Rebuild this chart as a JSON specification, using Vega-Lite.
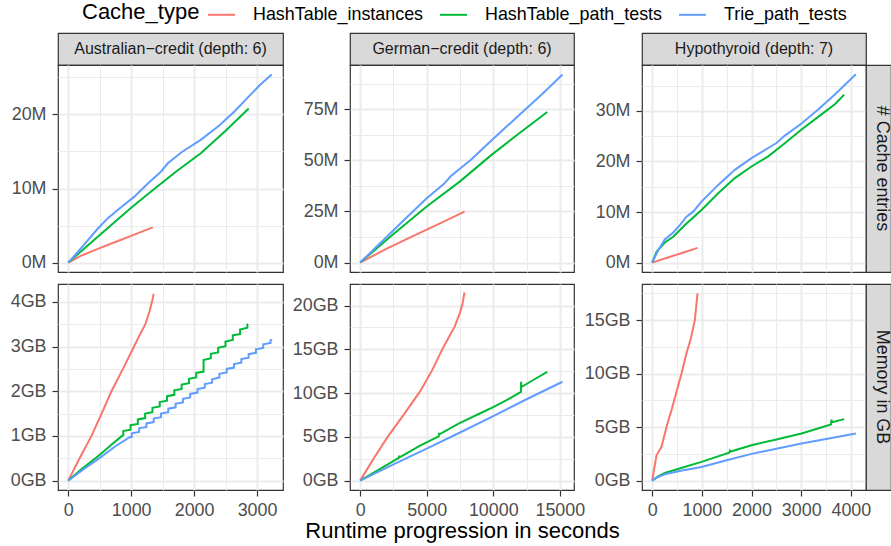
{
  "$schema": "https://vega.github.io/schema/vega-lite/v6.json",
  "padding": {"left": 9, "top": 0, "right": 0, "bottom": 0},
  "columns": 6,
  "spacing": 0,
  "bounds": "flush",
  "align": "each",
  "resolve": {"scale": {"x": "independent", "y": "independent"}, "axis": {"x": "independent", "y": "independent"}},
  "datasets": {
    "AE": [
      {"Cache_type": "HashTable_instances", "t": 0, "v": 0}, {"Cache_type": "HashTable_instances", "t": 200, "v": 0.9}, {"Cache_type": "HashTable_instances", "t": 500, "v": 1.95}, {"Cache_type": "HashTable_instances", "t": 800, "v": 2.95}, {"Cache_type": "HashTable_instances", "t": 1100, "v": 3.95}, {"Cache_type": "HashTable_instances", "t": 1344, "v": 4.75},
      {"Cache_type": "HashTable_path_tests", "t": 0, "v": 0}, {"Cache_type": "HashTable_path_tests", "t": 524, "v": 3.9}, {"Cache_type": "HashTable_path_tests", "t": 1000, "v": 7.4}, {"Cache_type": "HashTable_path_tests", "t": 1317, "v": 9.6}, {"Cache_type": "HashTable_path_tests", "t": 1700, "v": 12.2}, {"Cache_type": "HashTable_path_tests", "t": 2111, "v": 14.8}, {"Cache_type": "HashTable_path_tests", "t": 2500, "v": 17.8}, {"Cache_type": "HashTable_path_tests", "t": 2868, "v": 20.8},
      {"Cache_type": "Trie_path_tests", "t": 0, "v": 0}, {"Cache_type": "Trie_path_tests", "t": 150, "v": 1.4}, {"Cache_type": "Trie_path_tests", "t": 300, "v": 2.9}, {"Cache_type": "Trie_path_tests", "t": 450, "v": 4.4}, {"Cache_type": "Trie_path_tests", "t": 630, "v": 6.0}, {"Cache_type": "Trie_path_tests", "t": 800, "v": 7.2}, {"Cache_type": "Trie_path_tests", "t": 1050, "v": 8.9}, {"Cache_type": "Trie_path_tests", "t": 1270, "v": 10.7}, {"Cache_type": "Trie_path_tests", "t": 1476, "v": 12.3}, {"Cache_type": "Trie_path_tests", "t": 1582, "v": 13.4}, {"Cache_type": "Trie_path_tests", "t": 1800, "v": 14.9}, {"Cache_type": "Trie_path_tests", "t": 2111, "v": 16.6}, {"Cache_type": "Trie_path_tests", "t": 2400, "v": 18.5}, {"Cache_type": "Trie_path_tests", "t": 2640, "v": 20.4}, {"Cache_type": "Trie_path_tests", "t": 2878, "v": 22.5}, {"Cache_type": "Trie_path_tests", "t": 3050, "v": 24.0}, {"Cache_type": "Trie_path_tests", "t": 3233, "v": 25.4}
    ],
    "AM": [
      {"Cache_type": "HashTable_instances", "t": 0, "v": 0}, {"Cache_type": "HashTable_instances", "t": 200, "v": 0.55}, {"Cache_type": "HashTable_instances", "t": 370, "v": 1.0}, {"Cache_type": "HashTable_instances", "t": 530, "v": 1.5}, {"Cache_type": "HashTable_instances", "t": 687, "v": 2.0}, {"Cache_type": "HashTable_instances", "t": 870, "v": 2.5}, {"Cache_type": "HashTable_instances", "t": 1046, "v": 3.0}, {"Cache_type": "HashTable_instances", "t": 1150, "v": 3.3}, {"Cache_type": "HashTable_instances", "t": 1226, "v": 3.5}, {"Cache_type": "HashTable_instances", "t": 1290, "v": 3.78}, {"Cache_type": "HashTable_instances", "t": 1331, "v": 4.0}, {"Cache_type": "HashTable_instances", "t": 1358, "v": 4.18},
      {"Cache_type": "HashTable_path_tests", "t": 0, "v": 0}, {"Cache_type": "HashTable_path_tests", "t": 200, "v": 0.24}, {"Cache_type": "HashTable_path_tests", "t": 502, "v": 0.58}, {"Cache_type": "HashTable_path_tests", "t": 700, "v": 0.82}, {"Cache_type": "HashTable_path_tests", "t": 845, "v": 0.99},
      {"Cache_type": "HashTable_path_tests", "t": 874, "v": 1.01}, {"Cache_type": "HashTable_path_tests", "t": 874, "v": 1.11},
      {"Cache_type": "HashTable_path_tests", "t": 990, "v": 1.14}, {"Cache_type": "HashTable_path_tests", "t": 990, "v": 1.24},
      {"Cache_type": "HashTable_path_tests", "t": 1106, "v": 1.27}, {"Cache_type": "HashTable_path_tests", "t": 1106, "v": 1.37},
      {"Cache_type": "HashTable_path_tests", "t": 1222, "v": 1.40}, {"Cache_type": "HashTable_path_tests", "t": 1222, "v": 1.50},
      {"Cache_type": "HashTable_path_tests", "t": 1338, "v": 1.53}, {"Cache_type": "HashTable_path_tests", "t": 1338, "v": 1.63},
      {"Cache_type": "HashTable_path_tests", "t": 1454, "v": 1.66}, {"Cache_type": "HashTable_path_tests", "t": 1454, "v": 1.76},
      {"Cache_type": "HashTable_path_tests", "t": 1570, "v": 1.79}, {"Cache_type": "HashTable_path_tests", "t": 1570, "v": 1.89},
      {"Cache_type": "HashTable_path_tests", "t": 1686, "v": 1.92}, {"Cache_type": "HashTable_path_tests", "t": 1686, "v": 2.02},
      {"Cache_type": "HashTable_path_tests", "t": 1802, "v": 2.05}, {"Cache_type": "HashTable_path_tests", "t": 1802, "v": 2.15},
      {"Cache_type": "HashTable_path_tests", "t": 1918, "v": 2.18}, {"Cache_type": "HashTable_path_tests", "t": 1918, "v": 2.28},
      {"Cache_type": "HashTable_path_tests", "t": 2034, "v": 2.31}, {"Cache_type": "HashTable_path_tests", "t": 2034, "v": 2.41},
      {"Cache_type": "HashTable_path_tests", "t": 2150, "v": 2.44}, {"Cache_type": "HashTable_path_tests", "t": 2150, "v": 2.70},
      {"Cache_type": "HashTable_path_tests", "t": 2266, "v": 2.74}, {"Cache_type": "HashTable_path_tests", "t": 2266, "v": 2.84},
      {"Cache_type": "HashTable_path_tests", "t": 2382, "v": 2.87}, {"Cache_type": "HashTable_path_tests", "t": 2382, "v": 2.97},
      {"Cache_type": "HashTable_path_tests", "t": 2498, "v": 3.01}, {"Cache_type": "HashTable_path_tests", "t": 2498, "v": 3.11},
      {"Cache_type": "HashTable_path_tests", "t": 2614, "v": 3.15}, {"Cache_type": "HashTable_path_tests", "t": 2614, "v": 3.25},
      {"Cache_type": "HashTable_path_tests", "t": 2730, "v": 3.28}, {"Cache_type": "HashTable_path_tests", "t": 2730, "v": 3.38},
      {"Cache_type": "HashTable_path_tests", "t": 2846, "v": 3.42}, {"Cache_type": "HashTable_path_tests", "t": 2846, "v": 3.49},
      {"Cache_type": "HashTable_path_tests", "t": 2860, "v": 3.50},
      {"Cache_type": "Trie_path_tests", "t": 0, "v": 0}, {"Cache_type": "Trie_path_tests", "t": 250, "v": 0.26}, {"Cache_type": "Trie_path_tests", "t": 502, "v": 0.51}, {"Cache_type": "Trie_path_tests", "t": 750, "v": 0.77}, {"Cache_type": "Trie_path_tests", "t": 977, "v": 0.97},
      {"Cache_type": "Trie_path_tests", "t": 1010, "v": 0.98}, {"Cache_type": "Trie_path_tests", "t": 1010, "v": 1.06},
      {"Cache_type": "Trie_path_tests", "t": 1126, "v": 1.09}, {"Cache_type": "Trie_path_tests", "t": 1126, "v": 1.17},
      {"Cache_type": "Trie_path_tests", "t": 1242, "v": 1.20}, {"Cache_type": "Trie_path_tests", "t": 1242, "v": 1.28},
      {"Cache_type": "Trie_path_tests", "t": 1358, "v": 1.31}, {"Cache_type": "Trie_path_tests", "t": 1358, "v": 1.39},
      {"Cache_type": "Trie_path_tests", "t": 1474, "v": 1.42}, {"Cache_type": "Trie_path_tests", "t": 1474, "v": 1.50},
      {"Cache_type": "Trie_path_tests", "t": 1590, "v": 1.53}, {"Cache_type": "Trie_path_tests", "t": 1590, "v": 1.61},
      {"Cache_type": "Trie_path_tests", "t": 1706, "v": 1.64}, {"Cache_type": "Trie_path_tests", "t": 1706, "v": 1.72},
      {"Cache_type": "Trie_path_tests", "t": 1822, "v": 1.75}, {"Cache_type": "Trie_path_tests", "t": 1822, "v": 1.83},
      {"Cache_type": "Trie_path_tests", "t": 1938, "v": 1.86}, {"Cache_type": "Trie_path_tests", "t": 1938, "v": 1.94},
      {"Cache_type": "Trie_path_tests", "t": 2054, "v": 1.97}, {"Cache_type": "Trie_path_tests", "t": 2054, "v": 2.05},
      {"Cache_type": "Trie_path_tests", "t": 2170, "v": 2.08}, {"Cache_type": "Trie_path_tests", "t": 2170, "v": 2.16},
      {"Cache_type": "Trie_path_tests", "t": 2286, "v": 2.19}, {"Cache_type": "Trie_path_tests", "t": 2286, "v": 2.27},
      {"Cache_type": "Trie_path_tests", "t": 2402, "v": 2.31}, {"Cache_type": "Trie_path_tests", "t": 2402, "v": 2.39},
      {"Cache_type": "Trie_path_tests", "t": 2518, "v": 2.42}, {"Cache_type": "Trie_path_tests", "t": 2518, "v": 2.50},
      {"Cache_type": "Trie_path_tests", "t": 2634, "v": 2.53}, {"Cache_type": "Trie_path_tests", "t": 2634, "v": 2.61},
      {"Cache_type": "Trie_path_tests", "t": 2750, "v": 2.64}, {"Cache_type": "Trie_path_tests", "t": 2750, "v": 2.72},
      {"Cache_type": "Trie_path_tests", "t": 2866, "v": 2.75}, {"Cache_type": "Trie_path_tests", "t": 2866, "v": 2.83},
      {"Cache_type": "Trie_path_tests", "t": 2982, "v": 2.86}, {"Cache_type": "Trie_path_tests", "t": 2982, "v": 2.94},
      {"Cache_type": "Trie_path_tests", "t": 3098, "v": 2.97}, {"Cache_type": "Trie_path_tests", "t": 3098, "v": 3.05},
      {"Cache_type": "Trie_path_tests", "t": 3214, "v": 3.08}, {"Cache_type": "Trie_path_tests", "t": 3214, "v": 3.14},
      {"Cache_type": "Trie_path_tests", "t": 3240, "v": 3.15}
    ],
    "GE": [
      {"Cache_type": "HashTable_instances", "t": 0, "v": 0}, {"Cache_type": "HashTable_instances", "t": 2000, "v": 6.8}, {"Cache_type": "HashTable_instances", "t": 4000, "v": 13.1}, {"Cache_type": "HashTable_instances", "t": 6000, "v": 19.2}, {"Cache_type": "HashTable_instances", "t": 7836, "v": 24.9},
      {"Cache_type": "HashTable_path_tests", "t": 0, "v": 0}, {"Cache_type": "HashTable_path_tests", "t": 2500, "v": 14}, {"Cache_type": "HashTable_path_tests", "t": 5000, "v": 27.4}, {"Cache_type": "HashTable_path_tests", "t": 7500, "v": 39.7}, {"Cache_type": "HashTable_path_tests", "t": 9800, "v": 52.3}, {"Cache_type": "HashTable_path_tests", "t": 12000, "v": 63.5}, {"Cache_type": "HashTable_path_tests", "t": 14055, "v": 73.6},
      {"Cache_type": "Trie_path_tests", "t": 0, "v": 0}, {"Cache_type": "Trie_path_tests", "t": 1500, "v": 9.5}, {"Cache_type": "Trie_path_tests", "t": 3000, "v": 19}, {"Cache_type": "Trie_path_tests", "t": 5000, "v": 31.5}, {"Cache_type": "Trie_path_tests", "t": 6300, "v": 38.5}, {"Cache_type": "Trie_path_tests", "t": 6800, "v": 42.2}, {"Cache_type": "Trie_path_tests", "t": 8300, "v": 50.2}, {"Cache_type": "Trie_path_tests", "t": 9800, "v": 59.3}, {"Cache_type": "Trie_path_tests", "t": 11000, "v": 66.5}, {"Cache_type": "Trie_path_tests", "t": 12300, "v": 74.2}, {"Cache_type": "Trie_path_tests", "t": 13700, "v": 82.5}, {"Cache_type": "Trie_path_tests", "t": 15200, "v": 92}
    ],
    "GM": [
      {"Cache_type": "HashTable_instances", "t": 0, "v": 0}, {"Cache_type": "HashTable_instances", "t": 1000, "v": 2.5}, {"Cache_type": "HashTable_instances", "t": 2065, "v": 5.0}, {"Cache_type": "HashTable_instances", "t": 3300, "v": 7.6}, {"Cache_type": "HashTable_instances", "t": 4500, "v": 10.2}, {"Cache_type": "HashTable_instances", "t": 5400, "v": 12.6}, {"Cache_type": "HashTable_instances", "t": 6169, "v": 15.0}, {"Cache_type": "HashTable_instances", "t": 6700, "v": 16.5}, {"Cache_type": "HashTable_instances", "t": 7100, "v": 17.6}, {"Cache_type": "HashTable_instances", "t": 7500, "v": 19.2}, {"Cache_type": "HashTable_instances", "t": 7700, "v": 20.3}, {"Cache_type": "HashTable_instances", "t": 7836, "v": 21.5},
      {"Cache_type": "HashTable_path_tests", "t": 0, "v": 0}, {"Cache_type": "HashTable_path_tests", "t": 1500, "v": 1.35}, {"Cache_type": "HashTable_path_tests", "t": 2900, "v": 2.6}, {"Cache_type": "HashTable_path_tests", "t": 2935, "v": 2.85}, {"Cache_type": "HashTable_path_tests", "t": 2960, "v": 2.65}, {"Cache_type": "HashTable_path_tests", "t": 4500, "v": 4.0}, {"Cache_type": "HashTable_path_tests", "t": 5900, "v": 5.05}, {"Cache_type": "HashTable_path_tests", "t": 5920, "v": 5.45}, {"Cache_type": "HashTable_path_tests", "t": 5950, "v": 5.3}, {"Cache_type": "HashTable_path_tests", "t": 7500, "v": 6.6}, {"Cache_type": "HashTable_path_tests", "t": 9776, "v": 8.24}, {"Cache_type": "HashTable_path_tests", "t": 11000, "v": 9.2}, {"Cache_type": "HashTable_path_tests", "t": 12080, "v": 10.15}, {"Cache_type": "HashTable_path_tests", "t": 12090, "v": 11.3}, {"Cache_type": "HashTable_path_tests", "t": 12110, "v": 10.7}, {"Cache_type": "HashTable_path_tests", "t": 13000, "v": 11.5}, {"Cache_type": "HashTable_path_tests", "t": 14055, "v": 12.44},
      {"Cache_type": "Trie_path_tests", "t": 0, "v": 0}, {"Cache_type": "Trie_path_tests", "t": 2500, "v": 1.85}, {"Cache_type": "Trie_path_tests", "t": 5000, "v": 3.66}, {"Cache_type": "Trie_path_tests", "t": 7500, "v": 5.5}, {"Cache_type": "Trie_path_tests", "t": 10000, "v": 7.37}, {"Cache_type": "Trie_path_tests", "t": 12500, "v": 9.3}, {"Cache_type": "Trie_path_tests", "t": 15199, "v": 11.3}
    ],
    "HE": [
      {"Cache_type": "HashTable_instances", "t": 0, "v": 0}, {"Cache_type": "HashTable_instances", "t": 300, "v": 0.95}, {"Cache_type": "HashTable_instances", "t": 600, "v": 1.9}, {"Cache_type": "HashTable_instances", "t": 913, "v": 2.91},
      {"Cache_type": "HashTable_path_tests", "t": 0, "v": 0}, {"Cache_type": "HashTable_path_tests", "t": 87, "v": 2.12}, {"Cache_type": "HashTable_path_tests", "t": 255, "v": 3.97}, {"Cache_type": "HashTable_path_tests", "t": 423, "v": 5.1}, {"Cache_type": "HashTable_path_tests", "t": 658, "v": 7.42}, {"Cache_type": "HashTable_path_tests", "t": 993, "v": 10.4}, {"Cache_type": "HashTable_path_tests", "t": 1329, "v": 13.7}, {"Cache_type": "HashTable_path_tests", "t": 1664, "v": 16.7}, {"Cache_type": "HashTable_path_tests", "t": 2000, "v": 19.0}, {"Cache_type": "HashTable_path_tests", "t": 2336, "v": 21.0}, {"Cache_type": "HashTable_path_tests", "t": 2671, "v": 23.6}, {"Cache_type": "HashTable_path_tests", "t": 3007, "v": 26.3}, {"Cache_type": "HashTable_path_tests", "t": 3342, "v": 28.8}, {"Cache_type": "HashTable_path_tests", "t": 3678, "v": 31.3}, {"Cache_type": "HashTable_path_tests", "t": 3866, "v": 33.2},
      {"Cache_type": "Trie_path_tests", "t": 0, "v": 0}, {"Cache_type": "Trie_path_tests", "t": 121, "v": 2.45}, {"Cache_type": "Trie_path_tests", "t": 255, "v": 4.57}, {"Cache_type": "Trie_path_tests", "t": 423, "v": 5.96}, {"Cache_type": "Trie_path_tests", "t": 557, "v": 7.42}, {"Cache_type": "Trie_path_tests", "t": 691, "v": 9.07}, {"Cache_type": "Trie_path_tests", "t": 826, "v": 10.07}, {"Cache_type": "Trie_path_tests", "t": 993, "v": 12.05}, {"Cache_type": "Trie_path_tests", "t": 1329, "v": 15.36}, {"Cache_type": "Trie_path_tests", "t": 1664, "v": 18.34}, {"Cache_type": "Trie_path_tests", "t": 2000, "v": 20.66}, {"Cache_type": "Trie_path_tests", "t": 2336, "v": 22.65}, {"Cache_type": "Trie_path_tests", "t": 2503, "v": 23.64}, {"Cache_type": "Trie_path_tests", "t": 2671, "v": 25.1}, {"Cache_type": "Trie_path_tests", "t": 3007, "v": 27.48}, {"Cache_type": "Trie_path_tests", "t": 3342, "v": 30.26}, {"Cache_type": "Trie_path_tests", "t": 3678, "v": 33.24}, {"Cache_type": "Trie_path_tests", "t": 4101, "v": 37.22}
    ],
    "HM": [
      {"Cache_type": "HashTable_instances", "t": 0, "v": 0}, {"Cache_type": "HashTable_instances", "t": 87, "v": 2.37}, {"Cache_type": "HashTable_instances", "t": 188, "v": 3.16}, {"Cache_type": "HashTable_instances", "t": 289, "v": 5.03}, {"Cache_type": "HashTable_instances", "t": 389, "v": 6.59}, {"Cache_type": "HashTable_instances", "t": 490, "v": 8.31}, {"Cache_type": "HashTable_instances", "t": 591, "v": 10.03}, {"Cache_type": "HashTable_instances", "t": 691, "v": 11.9}, {"Cache_type": "HashTable_instances", "t": 779, "v": 13.3}, {"Cache_type": "HashTable_instances", "t": 859, "v": 15.0}, {"Cache_type": "HashTable_instances", "t": 913, "v": 17.5},
      {"Cache_type": "HashTable_path_tests", "t": 0, "v": 0}, {"Cache_type": "HashTable_path_tests", "t": 120, "v": 0.4}, {"Cache_type": "HashTable_path_tests", "t": 255, "v": 0.72}, {"Cache_type": "HashTable_path_tests", "t": 600, "v": 1.2}, {"Cache_type": "HashTable_path_tests", "t": 993, "v": 1.75}, {"Cache_type": "HashTable_path_tests", "t": 1550, "v": 2.6}, {"Cache_type": "HashTable_path_tests", "t": 1565, "v": 2.8}, {"Cache_type": "HashTable_path_tests", "t": 1580, "v": 2.72}, {"Cache_type": "HashTable_path_tests", "t": 2000, "v": 3.31}, {"Cache_type": "HashTable_path_tests", "t": 2500, "v": 3.85}, {"Cache_type": "HashTable_path_tests", "t": 3007, "v": 4.4}, {"Cache_type": "HashTable_path_tests", "t": 3600, "v": 5.25}, {"Cache_type": "HashTable_path_tests", "t": 3610, "v": 5.7}, {"Cache_type": "HashTable_path_tests", "t": 3620, "v": 5.45}, {"Cache_type": "HashTable_path_tests", "t": 3866, "v": 5.75},
      {"Cache_type": "Trie_path_tests", "t": 0, "v": 0}, {"Cache_type": "Trie_path_tests", "t": 100, "v": 0.3}, {"Cache_type": "Trie_path_tests", "t": 255, "v": 0.6}, {"Cache_type": "Trie_path_tests", "t": 600, "v": 0.95}, {"Cache_type": "Trie_path_tests", "t": 993, "v": 1.28}, {"Cache_type": "Trie_path_tests", "t": 1500, "v": 1.9}, {"Cache_type": "Trie_path_tests", "t": 2000, "v": 2.5}, {"Cache_type": "Trie_path_tests", "t": 2500, "v": 2.98}, {"Cache_type": "Trie_path_tests", "t": 3007, "v": 3.47}, {"Cache_type": "Trie_path_tests", "t": 3500, "v": 3.9}, {"Cache_type": "Trie_path_tests", "t": 4101, "v": 4.41}
    ]
  },
  "concat": [
    {"width": 225, "height": 32, "view": {"fill": "#D9D9D9", "stroke": "#333333", "strokeWidth": 1.2}, "data": {"values": [{"label": "Australian\u2212credit (depth: 6)"}]}, "mark": {"type": "text", "fontSize": 16, "color": "#1A1A1A"}, "encoding": {"text": {"field": "label"}}},
    {"width": 67, "height": 32, "data": {"values": []}, "mark": "point"},
    {"width": 224, "height": 32, "view": {"fill": "#D9D9D9", "stroke": "#333333", "strokeWidth": 1.2}, "data": {"values": [{"label": "German\u2212credit (depth: 6)"}]}, "mark": {"type": "text", "fontSize": 16, "color": "#1A1A1A"}, "encoding": {"text": {"field": "label"}}},
    {"width": 68, "height": 32, "data": {"values": []}, "mark": "point"},
    {"width": 224, "height": 32, "view": {"fill": "#D9D9D9", "stroke": "#333333", "strokeWidth": 1.2}, "data": {"values": [{"label": "Hypothyroid (depth: 7)"}]}, "mark": {"type": "text", "fontSize": 16, "color": "#1A1A1A"}, "encoding": {"text": {"field": "label"}}},
    {"width": 25, "height": 32, "data": {"values": []}, "mark": "point"},

    {"width": 225, "height": 207, "view": {"fill": "#FFFFFF", "stroke": "#333333", "strokeWidth": 1.2}, "data": {"name": "AE"}, "mark": {"type": "line", "strokeWidth": 2, "clip": true},
     "encoding": {
       "x": {"field": "t", "type": "quantitative", "scale": {"domain": [-162, 3412], "nice": false, "zero": false}, "axis": {"values": [0, 500, 1000, 1500, 2000, 2500, 3000], "labels": false, "ticks": false, "title": null, "gridWidth": {"condition": {"test": "datum.value % 1000 === 0", "value": 2}, "value": 1}}},
       "y": {"field": "v", "type": "quantitative", "scale": {"domain": [-1.27, 26.67], "nice": false, "zero": false}, "axis": {"values": [0, 5, 10, 15, 20, 25], "title": null, "labelExpr": "datum.value % 10 === 0 ? datum.value + 'M' : ''", "tickColor": {"condition": {"test": "datum.value % 10 === 0", "value": "#333333"}, "value": "transparent"}, "gridWidth": {"condition": {"test": "datum.value % 10 === 0", "value": 2}, "value": 1}}},
       "color": {"field": "Cache_type", "type": "nominal", "scale": {"domain": ["HashTable_instances", "HashTable_path_tests", "Trie_path_tests"], "range": ["#F8766D", "#00BA38", "#619CFF"]}, "legend": {"orient": "none", "legendX": 24, "legendY": -33, "direction": "horizontal", "titleOrient": "left", "titleAnchor": "middle", "titleBaseline": "middle"}},
       "order": {"value": null}
     }},
    {"width": 67, "height": 207, "data": {"values": []}, "mark": "point"},
    {"width": 224, "height": 207, "view": {"fill": "#FFFFFF", "stroke": "#333333", "strokeWidth": 1.2}, "data": {"name": "GE"}, "mark": {"type": "line", "strokeWidth": 2, "clip": true},
     "encoding": {
       "x": {"field": "t", "type": "quantitative", "scale": {"domain": [-765, 16065], "nice": false, "zero": false}, "axis": {"values": [0, 2500, 5000, 7500, 10000, 12500, 15000], "labels": false, "ticks": false, "title": null, "gridWidth": {"condition": {"test": "datum.value % 5000 === 0", "value": 2}, "value": 1}}},
       "y": {"field": "v", "type": "quantitative", "scale": {"domain": [-4.6, 96.6], "nice": false, "zero": false}, "axis": {"values": [0, 12.5, 25, 37.5, 50, 62.5, 75, 87.5], "title": null, "labelExpr": "datum.value % 25 === 0 ? datum.value + 'M' : ''", "tickColor": {"condition": {"test": "datum.value % 25 === 0", "value": "#333333"}, "value": "transparent"}, "gridWidth": {"condition": {"test": "datum.value % 25 === 0", "value": 2}, "value": 1}}},
       "color": {"field": "Cache_type", "type": "nominal", "scale": {"domain": ["HashTable_instances", "HashTable_path_tests", "Trie_path_tests"], "range": ["#F8766D", "#00BA38", "#619CFF"]}, "legend": {"orient": "none", "legendX": 24, "legendY": -33, "direction": "horizontal", "titleOrient": "left", "titleAnchor": "middle", "titleBaseline": "middle"}},
       "order": {"value": null}
     }},
    {"width": 68, "height": 207, "data": {"values": []}, "mark": "point"},
    {"width": 224, "height": 207, "view": {"fill": "#FFFFFF", "stroke": "#333333", "strokeWidth": 1.2}, "data": {"name": "HE"}, "mark": {"type": "line", "strokeWidth": 2, "clip": true},
     "encoding": {
       "x": {"field": "t", "type": "quantitative", "scale": {"domain": [-205, 4305], "nice": false, "zero": false}, "axis": {"values": [0, 500, 1000, 1500, 2000, 2500, 3000, 3500, 4000], "labels": false, "ticks": false, "title": null, "gridWidth": {"condition": {"test": "datum.value % 1000 === 0", "value": 2}, "value": 1}}},
       "y": {"field": "v", "type": "quantitative", "scale": {"domain": [-1.86, 39.06], "nice": false, "zero": false}, "axis": {"values": [0, 5, 10, 15, 20, 25, 30, 35], "title": null, "labelExpr": "datum.value % 10 === 0 ? datum.value + 'M' : ''", "tickColor": {"condition": {"test": "datum.value % 10 === 0", "value": "#333333"}, "value": "transparent"}, "gridWidth": {"condition": {"test": "datum.value % 10 === 0", "value": 2}, "value": 1}}},
       "color": {"field": "Cache_type", "type": "nominal", "scale": {"domain": ["HashTable_instances", "HashTable_path_tests", "Trie_path_tests"], "range": ["#F8766D", "#00BA38", "#619CFF"]}, "legend": {"orient": "none", "legendX": 24, "legendY": -33, "direction": "horizontal", "titleOrient": "left", "titleAnchor": "middle", "titleBaseline": "middle"}},
       "order": {"value": null}
     }},
    {"width": 25, "height": 207, "view": {"fill": "#D9D9D9", "stroke": "#333333", "strokeWidth": 1.2}, "data": {"values": [{"label": "# Cache entries"}]}, "mark": {"type": "text", "fontSize": 17.9, "color": "#1A1A1A", "angle": 90, "dy": -3}, "encoding": {"text": {"field": "label"}}},

    {"width": 225, "height": 12, "data": {"values": []}, "mark": "point"},
    {"width": 67, "height": 12, "data": {"values": []}, "mark": "point"},
    {"width": 224, "height": 12, "data": {"values": []}, "mark": "point"},
    {"width": 68, "height": 12, "data": {"values": []}, "mark": "point"},
    {"width": 224, "height": 12, "data": {"values": []}, "mark": "point"},
    {"width": 25, "height": 12, "data": {"values": []}, "mark": "point"},

    {"width": 225, "height": 206, "view": {"fill": "#FFFFFF", "stroke": "#333333", "strokeWidth": 1.2}, "data": {"name": "AM"}, "mark": {"type": "line", "strokeWidth": 2, "clip": true},
     "encoding": {
       "x": {"field": "t", "type": "quantitative", "scale": {"domain": [-162, 3412], "nice": false, "zero": false}, "axis": {"values": [0, 500, 1000, 1500, 2000, 2500, 3000], "title": null, "labelExpr": "datum.value % 1000 === 0 ? datum.value : ''", "tickColor": {"condition": {"test": "datum.value % 1000 === 0", "value": "#333333"}, "value": "transparent"}, "gridWidth": {"condition": {"test": "datum.value % 1000 === 0", "value": 2}, "value": 1}}},
       "y": {"field": "v", "type": "quantitative", "scale": {"domain": [-0.21, 4.4], "nice": false, "zero": false}, "axis": {"values": [0, 0.5, 1, 1.5, 2, 2.5, 3, 3.5, 4], "title": null, "labelExpr": "datum.value % 1 === 0 ? datum.value + 'GB' : ''", "tickColor": {"condition": {"test": "datum.value % 1 === 0", "value": "#333333"}, "value": "transparent"}, "gridWidth": {"condition": {"test": "datum.value % 1 === 0", "value": 2}, "value": 1}}},
       "color": {"field": "Cache_type", "type": "nominal", "scale": {"domain": ["HashTable_instances", "HashTable_path_tests", "Trie_path_tests"], "range": ["#F8766D", "#00BA38", "#619CFF"]}, "legend": {"orient": "none", "legendX": 24, "legendY": -33, "direction": "horizontal", "titleOrient": "left", "titleAnchor": "middle", "titleBaseline": "middle"}},
       "order": {"value": null}
     }},
    {"width": 67, "height": 206, "data": {"values": []}, "mark": "point"},
    {"width": 224, "height": 206, "view": {"fill": "#FFFFFF", "stroke": "#333333", "strokeWidth": 1.2}, "data": {"name": "GM"}, "mark": {"type": "line", "strokeWidth": 2, "clip": true},
     "encoding": {
       "x": {"field": "t", "type": "quantitative", "scale": {"domain": [-765, 16065], "nice": false, "zero": false}, "axis": {"values": [0, 2500, 5000, 7500, 10000, 12500, 15000], "title": "Runtime progression in seconds", "titleFontSize": 22, "titleFontWeight": "normal", "titleColor": "#000000", "titlePadding": 2, "labelExpr": "datum.value % 5000 === 0 ? datum.value : ''", "tickColor": {"condition": {"test": "datum.value % 5000 === 0", "value": "#333333"}, "value": "transparent"}, "gridWidth": {"condition": {"test": "datum.value % 5000 === 0", "value": 2}, "value": 1}}},
       "y": {"field": "v", "type": "quantitative", "scale": {"domain": [-1.07, 22.47], "nice": false, "zero": false}, "axis": {"values": [0, 2.5, 5, 7.5, 10, 12.5, 15, 17.5, 20], "title": null, "labelExpr": "datum.value % 5 === 0 ? datum.value + 'GB' : ''", "tickColor": {"condition": {"test": "datum.value % 5 === 0", "value": "#333333"}, "value": "transparent"}, "gridWidth": {"condition": {"test": "datum.value % 5 === 0", "value": 2}, "value": 1}}},
       "color": {"field": "Cache_type", "type": "nominal", "scale": {"domain": ["HashTable_instances", "HashTable_path_tests", "Trie_path_tests"], "range": ["#F8766D", "#00BA38", "#619CFF"]}, "legend": {"orient": "none", "legendX": 24, "legendY": -33, "direction": "horizontal", "titleOrient": "left", "titleAnchor": "middle", "titleBaseline": "middle"}},
       "order": {"value": null}
     }},
    {"width": 68, "height": 206, "data": {"values": []}, "mark": "point"},
    {"width": 224, "height": 206, "view": {"fill": "#FFFFFF", "stroke": "#333333", "strokeWidth": 1.2}, "data": {"name": "HM"}, "mark": {"type": "line", "strokeWidth": 2, "clip": true},
     "encoding": {
       "x": {"field": "t", "type": "quantitative", "scale": {"domain": [-205, 4305], "nice": false, "zero": false}, "axis": {"values": [0, 500, 1000, 1500, 2000, 2500, 3000, 3500, 4000], "title": null, "labelExpr": "datum.value % 1000 === 0 ? datum.value : ''", "tickColor": {"condition": {"test": "datum.value % 1000 === 0", "value": "#333333"}, "value": "transparent"}, "gridWidth": {"condition": {"test": "datum.value % 1000 === 0", "value": 2}, "value": 1}}},
       "y": {"field": "v", "type": "quantitative", "scale": {"domain": [-0.875, 18.375], "nice": false, "zero": false}, "axis": {"values": [0, 2.5, 5, 7.5, 10, 12.5, 15, 17.5], "title": null, "labelExpr": "datum.value % 5 === 0 ? datum.value + 'GB' : ''", "tickColor": {"condition": {"test": "datum.value % 5 === 0", "value": "#333333"}, "value": "transparent"}, "gridWidth": {"condition": {"test": "datum.value % 5 === 0", "value": 2}, "value": 1}}},
       "color": {"field": "Cache_type", "type": "nominal", "scale": {"domain": ["HashTable_instances", "HashTable_path_tests", "Trie_path_tests"], "range": ["#F8766D", "#00BA38", "#619CFF"]}, "legend": {"orient": "none", "legendX": 24, "legendY": -33, "direction": "horizontal", "titleOrient": "left", "titleAnchor": "middle", "titleBaseline": "middle"}},
       "order": {"value": null}
     }},
    {"width": 25, "height": 206, "view": {"fill": "#D9D9D9", "stroke": "#333333", "strokeWidth": 1.2}, "data": {"values": [{"label": "Memory in GB"}]}, "mark": {"type": "text", "fontSize": 17.9, "color": "#1A1A1A", "angle": 90, "dy": -3}, "encoding": {"text": {"field": "label"}}}
  ],
  "config": {
    "font": "Liberation Sans",
    "view": {"stroke": null},
    "axis": {"domain": false, "gridColor": "#EBEBEB", "labelFontSize": 17.9, "labelColor": "#4D4D4D", "tickSize": 6, "tickWidth": 1.2, "labelOverlap": false, "labelFlush": false, "labelBound": false},
    "axisX": {"labelPadding": 5},
    "axisY": {"labelPadding": 6},
    "legend": {"titleFontSize": 22, "titleFontWeight": "normal", "titleColor": "#000000", "labelFontSize": 17.9, "labelColor": "#000000", "labelLimit": 0, "symbolType": "stroke", "symbolStrokeWidth": 2, "symbolSize": 729, "labelOffset": 17, "columnPadding": 12, "titlePadding": 7, "padding": 0}
  }
}
